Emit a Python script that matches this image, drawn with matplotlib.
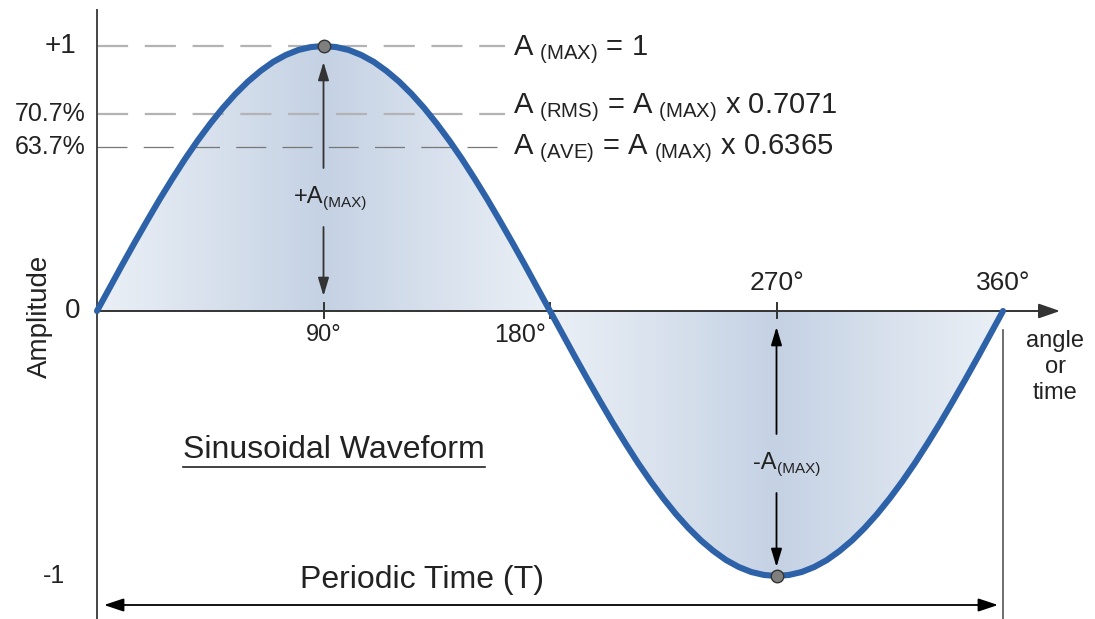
import numpy as np
import matplotlib.pyplot as plt
from matplotlib.colors import LinearSegmentedColormap

plt.rcParams['font.family'] = ['Liberation Sans', 'DejaVu Sans']
plt.rcParams['mathtext.fontset'] = 'custom'
plt.rcParams['mathtext.rm'] = 'Liberation Sans'

# waveform, every 5 degrees
angle = list(range(0, 361, 5))
amplitude = [0.0, 0.087, 0.174, 0.259, 0.342, 0.423, 0.5, 0.574, 0.643, 0.707,
             0.766, 0.819, 0.866, 0.906, 0.94, 0.966, 0.985, 0.996, 1.0,
             0.996, 0.985, 0.966, 0.94, 0.906, 0.866, 0.819, 0.766, 0.707,
             0.643, 0.574, 0.5, 0.423, 0.342, 0.259, 0.174, 0.087, 0.0,
             -0.087, -0.174, -0.259, -0.342, -0.423, -0.5, -0.574, -0.643,
             -0.707, -0.766, -0.819, -0.866, -0.906, -0.94, -0.966, -0.985,
             -0.996, -1.0, -0.996, -0.985, -0.966, -0.94, -0.906, -0.866,
             -0.819, -0.766, -0.707, -0.643, -0.574, -0.5, -0.423, -0.342,
             -0.259, -0.174, -0.087, 0.0]

peak_angle = [90, 270]
peak_amp = [1.0, -1.0]

# reference levels as drawn in the picture
level_values = [1.0, 0.742, 0.617]
level_labels = ['+1', '70.7%', '63.7%']
formulas = [r'A$_{\mathrm{\ (MAX)}}$ = 1',
            r'A$_{\mathrm{\ (RMS)}}$ = A$_{\mathrm{\ (MAX)}}$ x 0.7071',
            r'A$_{\mathrm{\ (AVE)}}$ = A$_{\mathrm{\ (MAX)}}$ x 0.6365']

tick_angles = [90, 180, 270, 360]
tick_labels = ['90°', '180°', '270°', '360°']


# reference pixel -> data coordinates (x=0 at px 97, 360 at px 1003; y=0 at py 311)
def dx(px):
    return (px - 97) * 360.0 / 906


def dy(py):
    return (311 - py) / 265.0


fig = plt.figure(figsize=(10.95, 6.19), dpi=100)
ax = fig.add_axes([0, 0, 1, 1])
ax.set_xlim(dx(0), dx(1095))
ax.set_ylim(dy(619), dy(0))
ax.axis('off')

# shaded area with a gradient, darkest under the peaks
x = np.array(angle, dtype=float)
y = np.array(amplitude)
poly = ax.fill_between(x, y, 0, facecolor='none', edgecolor='none')
cols = np.linspace(0, 360, 721)
shade = 1 - np.abs(((cols % 180) - 90) / 90.0)
cmap = LinearSegmentedColormap.from_list('bl', ['#ebf0f6', '#c5d2e4'])
im = ax.imshow(shade[np.newaxis, :], cmap=cmap, aspect='auto',
               extent=[0, 360, -1, 1], origin='lower', zorder=1)
im.set_clip_path(poly.get_paths()[0], transform=ax.transData)

# dashed reference lines
ax.plot([0, dx(505)], [level_values[0]] * 2, color='#b3b3b3', lw=1.6,
        dashes=(14, 7.5), zorder=2)
ax.plot([0, dx(505)], [level_values[1]] * 2, color='#b3b3b3', lw=1.6,
        dashes=(14, 7.5), zorder=2)
ax.plot([0, dx(505)], [level_values[2]] * 2, color='#777777', lw=0.9,
        dashes=(24, 13), zorder=2)

for val, lab in zip(level_values, level_labels):
    if lab == '+1':
        ax.text(dx(76), val, lab, ha='right', va='center', fontsize=20,
                color='#222222')
    else:
        ax.text(dx(86), val, lab, ha='right', va='center', fontsize=18,
                color='#222222')

for py, txt in zip([50, 108, 149], formulas):
    ax.text(dx(513), dy(py), txt, ha='left', va='center', fontsize=21,
            color='#222222')

# axes
ax.plot([0, 0], [dy(10), dy(619)], color='#444444', lw=1.4, zorder=3)
ax.annotate('', xy=(dx(1060), 0), xytext=(0, 0),
            arrowprops=dict(arrowstyle='-|>,head_length=1.3,head_width=0.45',
                            color='#333333', lw=1.4, shrinkA=0, shrinkB=0),
            zorder=3)
ax.plot([360, 360], [dy(330), dy(619)], color='#555555', lw=1.2, zorder=3)
for a in tick_angles[:3]:
    ax.plot([a, a], [dy(303), dy(318)], color='#333333', lw=1.4, zorder=3)

# the waveform
ax.plot(x, y, color='#2e62a8', lw=4.4, solid_capstyle='round',
        solid_joinstyle='round', zorder=4)
ax.plot(peak_angle, peak_amp, 'o', ms=9, mfc='#7f7f7f', mec='#333333',
        mew=1.0, zorder=5)

# amplitude arrows
up = dict(arrowstyle='-|>,head_length=1.1,head_width=0.33', color='#333333',
          lw=1.3, shrinkA=0, shrinkB=0)
dn = dict(arrowstyle='-|>,head_length=1.1,head_width=0.33', color='black',
          lw=1.3, shrinkA=0, shrinkB=0)
ax.annotate('', xy=(90, dy(62)), xytext=(90, dy(168)), arrowprops=up, zorder=4)
ax.annotate('', xy=(90, dy(296)), xytext=(90, dy(227)), arrowprops=up, zorder=4)
ax.annotate('', xy=(270, dy(327)), xytext=(270, dy(434)), arrowprops=dn, zorder=4)
ax.annotate('', xy=(270, dy(567)), xytext=(270, dy(493)), arrowprops=dn, zorder=4)

ax.text(90, dy(197), '+A', ha='right', va='center', fontsize=17,
        color='#222222')
ax.text(90, dy(203), '(MAX)', ha='left', va='center', fontsize=11,
        color='#222222')
ax.text(270, dy(463), '-A', ha='right', va='center', fontsize=17,
        color='#222222')
ax.text(270, dy(469), '(MAX)', ha='left', va='center', fontsize=11,
        color='#222222')

# tick labels
ax.text(90, dy(335), tick_labels[0], ha='center', va='center', fontsize=17,
        color='#222222')
ax.text(dx(520), dy(335), tick_labels[1], ha='center', va='center', fontsize=18,
        color='#222222')
ax.text(270, dy(283), tick_labels[2], ha='center', va='center', fontsize=19,
        color='#222222')
ax.text(360, dy(283), tick_labels[3], ha='center', va='center', fontsize=19,
        color='#222222')

ax.text(dx(73), 0, '0', ha='center', va='center', fontsize=20, color='#222222')
ax.text(dx(65), -1, '-1', ha='right', va='center', fontsize=18,
        color='#222222')
ax.text(dx(40), dy(316), 'Amplitude', rotation=90, ha='center', va='center',
        fontsize=20, color='#222222')
ax.text(dx(1055), dy(367), 'angle\nor\ntime', ha='center', va='center',
        fontsize=17, linespacing=1.25, color='#222222')

# titles
ax.text(dx(183), dy(450), 'Sinusoidal Waveform', ha='left', va='center',
        fontsize=23, color='#222222')
ax.plot([dx(183), dx(485)], [dy(467)] * 2, color='#222222', lw=1.2)
ax.text(dx(422), dy(580), 'Periodic Time (T)', ha='center', va='center',
        fontsize=23, color='#222222')
ax.annotate('', xy=(dx(104), dy(605)), xytext=(dx(998), dy(605)),
            arrowprops=dict(arrowstyle='<|-|>,head_length=1.2,head_width=0.4',
                            color='black', lw=1.3, shrinkA=0, shrinkB=0))

fig.savefig('out.png', dpi=100)
